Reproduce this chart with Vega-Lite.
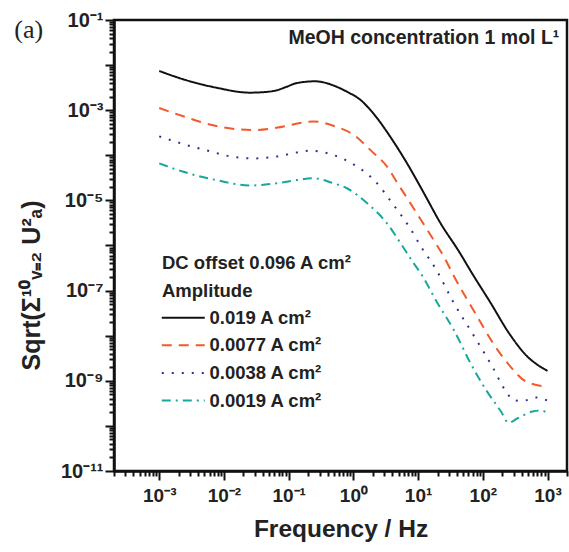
{
  "$schema": "https://vega.github.io/schema/vega-lite/v6.json",
  "width": 453,
  "height": 451,
  "autosize": {"type": "none"},
  "padding": {"left": 114, "top": 20, "right": 2, "bottom": 81},
  "background": "white",
  "config": {
    "view": {"stroke": "#111", "strokeWidth": 2.5},
    "font": "Liberation Sans"
  },
  "data": {"values": [
    {"s":"0.019 A cm²","f":1e-3,"v":7.41e-3},
    {"s":"0.019 A cm²","f":2.29e-3,"v":4.90e-3},
    {"s":"0.019 A cm²","f":7.59e-3,"v":3.16e-3},
    {"s":"0.019 A cm²","f":2.51e-2,"v":2.45e-3},
    {"s":"0.019 A cm²","f":3.98e-2,"v":2.51e-3},
    {"s":"0.019 A cm²","f":6.46e-2,"v":2.75e-3},
    {"s":"0.019 A cm²","f":9.33e-2,"v":3.31e-3},
    {"s":"0.019 A cm²","f":0.132,"v":3.98e-3},
    {"s":"0.019 A cm²","f":0.257,"v":4.37e-3},
    {"s":"0.019 A cm²","f":0.550,"v":3.31e-3},
    {"s":"0.019 A cm²","f":0.794,"v":2.57e-3},
    {"s":"0.019 A cm²","f":1.28,"v":1.70e-3},
    {"s":"0.019 A cm²","f":2.14,"v":7.76e-4},
    {"s":"0.019 A cm²","f":3.72,"v":2.57e-4},
    {"s":"0.019 A cm²","f":6.76,"v":6.61e-5},
    {"s":"0.019 A cm²","f":12.3,"v":1.45e-5},
    {"s":"0.019 A cm²","f":22.3,"v":3.09e-6},
    {"s":"0.019 A cm²","f":42.7,"v":7.41e-7},
    {"s":"0.019 A cm²","f":69.2,"v":2.34e-7},
    {"s":"0.019 A cm²","f":133,"v":5.25e-8},
    {"s":"0.019 A cm²","f":256,"v":1.12e-8},
    {"s":"0.019 A cm²","f":494,"v":3.39e-9},
    {"s":"0.019 A cm²","f":708,"v":2.24e-9},
    {"s":"0.019 A cm²","f":1000,"v":1.66e-9},

    {"s":"0.0077 A cm²","f":1e-3,"v":1.12e-3},
    {"s":"0.0077 A cm²","f":2.29e-3,"v":7.41e-4},
    {"s":"0.0077 A cm²","f":7.59e-3,"v":4.47e-4},
    {"s":"0.0077 A cm²","f":2.82e-2,"v":3.63e-4},
    {"s":"0.0077 A cm²","f":6.46e-2,"v":4.07e-4},
    {"s":"0.0077 A cm²","f":0.240,"v":5.62e-4},
    {"s":"0.0077 A cm²","f":0.550,"v":4.27e-4},
    {"s":"0.0077 A cm²","f":1.07,"v":2.69e-4},
    {"s":"0.0077 A cm²","f":1.82,"v":1.32e-4},
    {"s":"0.0077 A cm²","f":3.31,"v":5.62e-5},
    {"s":"0.0077 A cm²","f":5.01,"v":2.19e-5},
    {"s":"0.0077 A cm²","f":7.59,"v":8.71e-6},
    {"s":"0.0077 A cm²","f":11.5,"v":3.39e-6},
    {"s":"0.0077 A cm²","f":17.4,"v":1.32e-6},
    {"s":"0.0077 A cm²","f":25.1,"v":5.62e-7},
    {"s":"0.0077 A cm²","f":35.5,"v":2.14e-7},
    {"s":"0.0077 A cm²","f":74.1,"v":3.39e-8},
    {"s":"0.0077 A cm²","f":170,"v":4.79e-9},
    {"s":"0.0077 A cm²","f":269,"v":2.04e-9},
    {"s":"0.0077 A cm²","f":468,"v":9.55e-10},
    {"s":"0.0077 A cm²","f":1000,"v":7.41e-10},

    {"s":"0.0038 A cm²","f":1e-3,"v":2.63e-4},
    {"s":"0.0038 A cm²","f":2.75e-3,"v":1.66e-4},
    {"s":"0.0038 A cm²","f":6.03e-3,"v":1.23e-4},
    {"s":"0.0038 A cm²","f":1.32e-2,"v":9.33e-5},
    {"s":"0.0038 A cm²","f":2.88e-2,"v":8.51e-5},
    {"s":"0.0038 A cm²","f":6.31e-2,"v":9.33e-5},
    {"s":"0.0038 A cm²","f":0.141,"v":1.17e-4},
    {"s":"0.0038 A cm²","f":0.209,"v":1.26e-4},
    {"s":"0.0038 A cm²","f":0.457,"v":1.05e-4},
    {"s":"0.0038 A cm²","f":1.0,"v":6.31e-5},
    {"s":"0.0038 A cm²","f":2.19,"v":2.63e-5},
    {"s":"0.0038 A cm²","f":4.17,"v":7.94e-6},
    {"s":"0.0038 A cm²","f":7.24,"v":2.63e-6},
    {"s":"0.0038 A cm²","f":11.5,"v":8.71e-7},
    {"s":"0.0038 A cm²","f":18.6,"v":3.09e-7},
    {"s":"0.0038 A cm²","f":35.5,"v":5.37e-8},
    {"s":"0.0038 A cm²","f":74.1,"v":9.55e-9},
    {"s":"0.0038 A cm²","f":141,"v":2.04e-9},
    {"s":"0.0038 A cm²","f":229,"v":5.75e-10},
    {"s":"0.0038 A cm²","f":309,"v":3.63e-10},
    {"s":"0.0038 A cm²","f":468,"v":3.72e-10},
    {"s":"0.0038 A cm²","f":661,"v":4.27e-10},
    {"s":"0.0038 A cm²","f":1000,"v":3.63e-10},

    {"s":"0.0019 A cm²","f":1e-3,"v":6.61e-5},
    {"s":"0.0019 A cm²","f":2.29e-3,"v":4.37e-5},
    {"s":"0.0019 A cm²","f":7.59e-3,"v":2.82e-5},
    {"s":"0.0019 A cm²","f":2.51e-2,"v":2.14e-5},
    {"s":"0.0019 A cm²","f":6.46e-2,"v":2.40e-5},
    {"s":"0.0019 A cm²","f":0.132,"v":2.82e-5},
    {"s":"0.0019 A cm²","f":0.240,"v":3.09e-5},
    {"s":"0.0019 A cm²","f":0.490,"v":2.40e-5},
    {"s":"0.0019 A cm²","f":0.794,"v":1.86e-5},
    {"s":"0.0019 A cm²","f":1.62,"v":8.71e-6},
    {"s":"0.0019 A cm²","f":3.31,"v":3.09e-6},
    {"s":"0.0019 A cm²","f":5.37,"v":1.12e-6},
    {"s":"0.0019 A cm²","f":8.51,"v":4.07e-7},
    {"s":"0.0019 A cm²","f":11.0,"v":2.40e-7},
    {"s":"0.0019 A cm²","f":20.0,"v":5.25e-8},
    {"s":"0.0019 A cm²","f":35.5,"v":1.35e-8},
    {"s":"0.0019 A cm²","f":64.6,"v":2.45e-9},
    {"s":"0.0019 A cm²","f":112,"v":6.31e-10},
    {"s":"0.0019 A cm²","f":191,"v":2.09e-10},
    {"s":"0.0019 A cm²","f":251,"v":1.17e-10},
    {"s":"0.0019 A cm²","f":347,"v":1.48e-10},
    {"s":"0.0019 A cm²","f":589,"v":2.09e-10},
    {"s":"0.0019 A cm²","f":794,"v":2.19e-10},
    {"s":"0.0019 A cm²","f":1000,"v":1.91e-10}
  ]},
  "layer": [
    {
      "mark": {"type": "line", "strokeWidth": 2, "interpolate": "monotone"},
      "encoding": {
        "x": {
          "field": "f", "type": "quantitative",
          "scale": {"type": "log", "domain": [0.0002, 2000], "nice": false},
          "axis": {
            "title": "Frequency / Hz",
            "titleFontSize": 24.5, "titleFontWeight": "bold", "titleColor": "#222", "titlePadding": 12,
            "values": [0.0002,0.0003,0.0004,0.0005,0.0006,0.0007,0.0008,0.0009,0.001,0.002,0.003,0.004,0.005,0.006,0.007,0.008,0.009,0.01,0.02,0.03,0.04,0.05,0.06,0.07,0.08,0.09,0.1,0.2,0.3,0.4,0.5,0.6,0.7,0.8,0.9,1,2,3,4,5,6,7,8,9,10,20,30,40,50,60,70,80,90,100,200,300,400,500,600,700,800,900,1000,2000],
            "labelExpr": "abs(log(datum.value)/LN10 - round(log(datum.value)/LN10)) > 0.01 ? '' : ['10⁻³','10⁻²','10⁻¹','10⁰','10¹','10²','10³'][round(log(datum.value)/LN10)+3]",
            "labelFontSize": 19, "labelFontWeight": "bold", "labelColor": "#222",
            "labelOverlap": false, "labelBound": false, "labelFlush": false, "labelPadding": 6,
            "grid": false,
            "domainColor": "#111", "domainWidth": 2.5,
            "tickColor": "#111", "tickWidth": 2,
            "tickSize": {"condition": {"test": "abs(log(datum.value)/LN10 - round(log(datum.value)/LN10)) < 0.01", "value": 9}, "value": 5}
          }
        },
        "y": {
          "field": "v", "type": "quantitative",
          "scale": {"type": "log", "domain": [1e-11, 0.1], "nice": false},
          "axis": {
            "title": "Sqrt(Σ¹⁰ᵥ₌₂ U²ₐ)",
            "titleFontSize": 25, "titleFontWeight": "bold", "titleColor": "#222", "titlePadding": 16, "titleY": 265,
            "values": [1e-11,2e-11,3e-11,4e-11,5e-11,6e-11,7e-11,8e-11,9e-11,1e-10,2e-10,3e-10,4e-10,5e-10,6e-10,7e-10,8e-10,9e-10,1e-9,2e-9,3e-9,4e-9,5e-9,6e-9,7e-9,8e-9,9e-9,1e-8,2e-8,3e-8,4e-8,5e-8,6e-8,7e-8,8e-8,9e-8,1e-7,2e-7,3e-7,4e-7,5e-7,6e-7,7e-7,8e-7,9e-7,1e-6,2e-6,3e-6,4e-6,5e-6,6e-6,7e-6,8e-6,9e-6,1e-5,2e-5,3e-5,4e-5,5e-5,6e-5,7e-5,8e-5,9e-5,1e-4,2e-4,3e-4,4e-4,5e-4,6e-4,7e-4,8e-4,9e-4,1e-3,2e-3,3e-3,4e-3,5e-3,6e-3,7e-3,8e-3,9e-3,1e-2,2e-2,3e-2,4e-2,5e-2,6e-2,7e-2,8e-2,9e-2,0.1],
            "labelExpr": "abs(log(datum.value)/LN10 - round(log(datum.value)/LN10)) > 0.01 ? '' : ['10⁻¹¹','','10⁻⁹','','10⁻⁷','','10⁻⁵','','10⁻³','','10⁻¹'][round(log(datum.value)/LN10)+11]",
            "labelFontSize": 20, "labelFontWeight": "bold", "labelColor": "#222",
            "labelOverlap": false, "labelBound": false, "labelFlush": false, "labelPadding": 2,
            "grid": false,
            "domainColor": "#111", "domainWidth": 2.5,
            "tickColor": "#111", "tickWidth": 2,
            "tickSize": {"condition": {"test": "abs(log(datum.value)/LN10 - round(log(datum.value)/LN10)) < 0.01", "value": 9}, "value": 5}
          }
        },
        "detail": {"field": "s"},
        "color": {
          "field": "s", "type": "nominal",
          "scale": {"domain": ["0.019 A cm²","0.0077 A cm²","0.0038 A cm²","0.0019 A cm²"], "range": ["#111111","#f15a2b","#2e3192","#16a89c"]},
          "legend": {
            "title": ["DC offset 0.096 A cm²", "Amplitude"],
            "orient": "none", "legendX": 48, "legendY": 234, "padding": 0,
            "titleFontSize": 18.5, "titleFontWeight": "bold", "titleColor": "#222", "titleLineHeight": 28, "titlePadding": 8, "titleLimit": 400,
            "labelFontSize": 18.5, "labelFontWeight": "bold", "labelColor": "#222", "labelOffset": 17, "labelLimit": 300,
            "symbolType": "M-3,0L3,0", "symbolSize": 205, "symbolStrokeWidth": 2, "rowPadding": 8.6, "symbolOffset": 12
          }
        },
        "strokeDash": {
          "field": "s", "type": "nominal",
          "scale": {"domain": ["0.019 A cm²","0.0077 A cm²","0.0038 A cm²","0.0019 A cm²"], "range": [[1,0],[10,7],[2,8],[9,5,2,5]]},
          "legend": {
            "title": ["DC offset 0.096 A cm²", "Amplitude"],
            "orient": "none", "legendX": 48, "legendY": 234, "padding": 0,
            "titleFontSize": 18.5, "titleFontWeight": "bold", "titleColor": "#222", "titleLineHeight": 28, "titlePadding": 8, "titleLimit": 400,
            "labelFontSize": 18.5, "labelFontWeight": "bold", "labelColor": "#222", "labelOffset": 17, "labelLimit": 300,
            "symbolType": "M-3,0L3,0", "symbolSize": 205, "symbolStrokeWidth": 2, "rowPadding": 8.6, "symbolOffset": 12
          }
        }
      }
    },
    {
      "data": {"values": [{}]},
      "mark": {"type": "text", "font": "Liberation Serif", "fontSize": 26, "align": "center", "baseline": "middle", "color": "#222"},
      "encoding": {
        "x": {"datum": 9.6e-6, "type": "quantitative", "scale": {"type": "log", "domain": [0.0002, 2000], "nice": false}},
        "y": {"datum": 0.06, "type": "quantitative", "scale": {"type": "log", "domain": [1e-11, 0.1], "nice": false}},
        "text": {"value": "(a)"}
      }
    },
    {
      "data": {"values": [{}]},
      "mark": {"type": "text", "fontSize": 19.5, "fontWeight": "bold", "align": "right", "baseline": "middle", "color": "#222"},
      "encoding": {
        "x": {"datum": 1520, "type": "quantitative", "scale": {"type": "log", "domain": [0.0002, 2000], "nice": false}},
        "y": {"datum": 0.04, "type": "quantitative", "scale": {"type": "log", "domain": [1e-11, 0.1], "nice": false}},
        "text": {"value": "MeOH concentration 1 mol L¹"}
      }
    }
  ]
}
